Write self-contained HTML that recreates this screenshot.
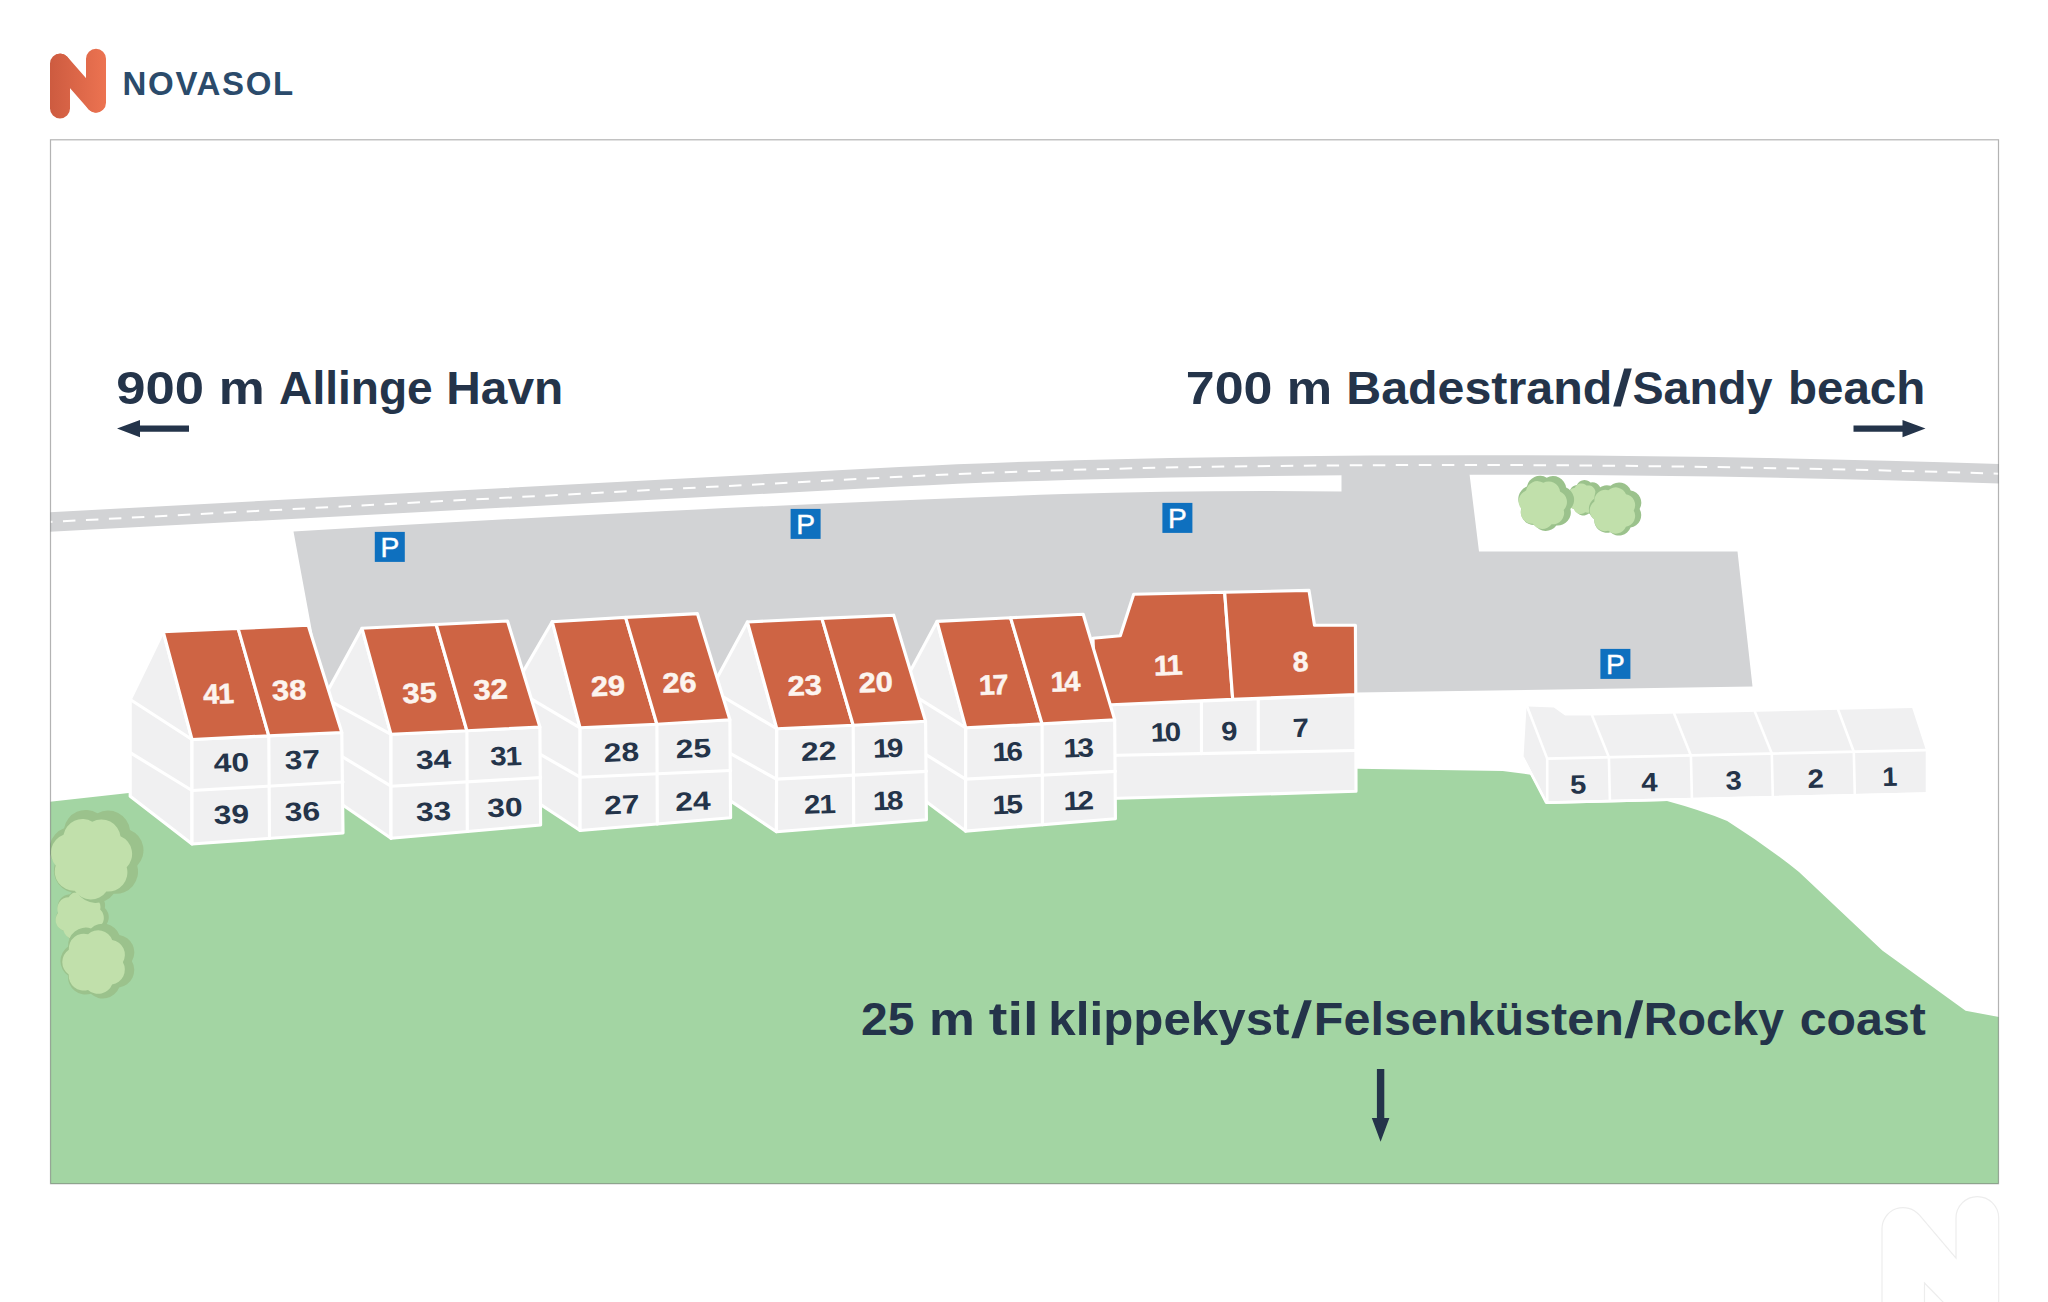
<!DOCTYPE html>
<html lang="en"><head><meta charset="utf-8"><title>NOVASOL site plan</title>
<style>
html,body{margin:0;padding:0;background:#fff}
body{width:2048px;height:1302px;overflow:hidden;font-family:"Liberation Sans",sans-serif}
svg{display:block}
text{font-family:"Liberation Sans",sans-serif}
.logo{font-size:33px;font-weight:700;fill:#2b4b6b}
.big{font-size:47px;font-weight:700;fill:#24344a}
.rn{font-size:28px;font-weight:700;fill:#fcf4ef;stroke:#fcf4ef;stroke-width:.5px;text-anchor:middle;dominant-baseline:central}
.wn{font-size:26.5px;font-weight:700;fill:#24344a;text-anchor:middle;dominant-baseline:central}
.pp{font-size:28.2px;font-weight:400;fill:#fff;stroke:#fff;stroke-width:.45px;text-anchor:middle}
</style></head>
<body>
<svg width="2048" height="1302" viewBox="0 0 2048 1302">
<defs>
<linearGradient id="lg" gradientUnits="userSpaceOnUse" x1="50" y1="0" x2="106" y2="0"><stop offset="0" stop-color="#cd5b40"/><stop offset="1" stop-color="#ec7351"/></linearGradient>
<clipPath id="fr"><rect x="50.5" y="139.8" width="1948" height="1043.9"/></clipPath>
</defs>
<rect width="2048" height="1302" fill="#fff"/>
<g fill="none" stroke="url(#lg)" stroke-linecap="round"><path d="M60,108.5 L60,63.5 M96,102.8 L96,58.8" stroke-width="20"/><path d="M60.5,63.1 L95.5,103.2" stroke-width="18.6"/></g>
<text x="122.6" y="95.4" class="logo" textLength="170.6" lengthAdjust="spacing">NOVASOL</text>
<g clip-path="url(#fr)">
<path d="M40,522.5 L900,476.8 C1100,466.5 1300,465 1474,465 C1650,465 1850,469 2010,474" fill="none" stroke="#d2d3d5" stroke-width="19.5"/>
<path d="M293.5,531.5 Q700,507 1064,494 Q1200,490 1341.5,491.5 L1341.5,470 L1469,470 L1479,551.5 L1737.5,551.5 L1752.5,686.5 L1356,692.5 L325,702 Z" fill="#d2d3d5"/>
<path d="M40,522.5 L900,476.8 C1100,466.5 1300,465 1474,465 C1650,465 1850,469 2010,474" fill="none" stroke="#fff" stroke-width="2" stroke-dasharray="12.5 10.5"/>
<path d="M40,803 L128.8,793 L1357,768.7 L1502.7,771 L1530.5,774.7 L1546.7,803.9 L1667,801.1 Q1700,810 1727.2,821 Q1765,845 1799,871.9 L1882.3,950.6 L1965.6,1010.8 L2010,1019 L2010,1200 L40,1200 Z" fill="#a3d5a3"/>
<path d="M101.7,928.5 A12.6,12.6 0 0 1 83.7,938.8 A12.6,12.6 0 0 1 64.5,931.2 A12.6,12.6 0 0 1 58.4,911.4 A12.6,12.6 0 0 1 70.1,894.3 A12.6,12.6 0 0 1 90.8,892.8 A12.6,12.6 0 0 1 104.8,908.0 A12.6,12.6 0 0 1 101.7,928.5Z" fill="#9bc28c"/>
<path d="M97.4,928.2 A11.4,11.4 0 0 1 81.1,937.6 A11.4,11.4 0 0 1 63.6,930.7 A11.4,11.4 0 0 1 58.1,912.7 A11.4,11.4 0 0 1 68.7,897.2 A11.4,11.4 0 0 1 87.5,895.8 A11.4,11.4 0 0 1 100.2,909.6 A11.4,11.4 0 0 1 97.4,928.2Z" fill="#c1e0ab"/>
<path d="M137.2,865.7 A22.1,22.1 0 0 1 113.7,893.7 A22.1,22.1 0 0 1 77.2,892.8 A22.1,22.1 0 0 1 55.1,863.6 A22.1,22.1 0 0 1 64.1,828.2 A22.1,22.1 0 0 1 97.5,813.2 A22.1,22.1 0 0 1 130.0,829.9 A22.1,22.1 0 0 1 137.2,865.7Z" fill="#9bc28c"/>
<path d="M126.7,867.3 A19.2,19.2 0 0 1 106.4,891.5 A19.2,19.2 0 0 1 74.7,890.7 A19.2,19.2 0 0 1 55.7,865.5 A19.2,19.2 0 0 1 63.5,834.8 A19.2,19.2 0 0 1 92.3,821.8 A19.2,19.2 0 0 1 120.5,836.3 A19.2,19.2 0 0 1 126.7,867.3Z" fill="#c1e0ab"/>
<path d="M119.2,987.4 A17.6,17.6 0 0 1 90.9,993.8 A17.6,17.6 0 0 1 68.1,975.6 A17.6,17.6 0 0 1 68.2,946.5 A17.6,17.6 0 0 1 91.0,928.4 A17.6,17.6 0 0 1 119.4,934.9 A17.6,17.6 0 0 1 131.9,961.2 A17.6,17.6 0 0 1 119.2,987.4Z" fill="#9bc28c"/>
<path d="M112.1,984.4 A15.0,15.0 0 0 1 88.0,989.9 A15.0,15.0 0 0 1 68.7,974.4 A15.0,15.0 0 0 1 68.8,949.7 A15.0,15.0 0 0 1 88.1,934.3 A15.0,15.0 0 0 1 112.2,939.9 A15.0,15.0 0 0 1 122.9,962.2 A15.0,15.0 0 0 1 112.1,984.4Z" fill="#c1e0ab"/>
<path d="M1600.2,505.5 A8.4,8.4 0 0 1 1588.9,513.6 A8.4,8.4 0 0 1 1575.6,509.8 A8.4,8.4 0 0 1 1570.3,497.1 A8.4,8.4 0 0 1 1576.9,485.0 A8.4,8.4 0 0 1 1590.5,482.6 A8.4,8.4 0 0 1 1600.9,491.7 A8.4,8.4 0 0 1 1600.2,505.5Z" fill="#9bc28c"/>
<path d="M1594.8,505.4 A7.2,7.2 0 0 1 1585.2,512.3 A7.2,7.2 0 0 1 1573.7,509.1 A7.2,7.2 0 0 1 1569.1,498.1 A7.2,7.2 0 0 1 1574.8,487.7 A7.2,7.2 0 0 1 1586.5,485.6 A7.2,7.2 0 0 1 1595.4,493.5 A7.2,7.2 0 0 1 1594.8,505.4Z" fill="#c1e0ab"/>
<path d="M1570.4,508.9 A13.2,13.2 0 0 1 1556.4,525.5 A13.2,13.2 0 0 1 1534.7,525.0 A13.2,13.2 0 0 1 1521.5,507.6 A13.2,13.2 0 0 1 1526.9,486.6 A13.2,13.2 0 0 1 1546.7,477.7 A13.2,13.2 0 0 1 1566.1,487.6 A13.2,13.2 0 0 1 1570.4,508.9Z" fill="#9bc28c"/>
<path d="M1563.7,509.9 A11.4,11.4 0 0 1 1551.6,524.3 A11.4,11.4 0 0 1 1532.8,523.8 A11.4,11.4 0 0 1 1521.4,508.8 A11.4,11.4 0 0 1 1526.1,490.6 A11.4,11.4 0 0 1 1543.3,482.8 A11.4,11.4 0 0 1 1560.0,491.4 A11.4,11.4 0 0 1 1563.7,509.9Z" fill="#c1e0ab"/>
<path d="M1630.6,527.6 A12.5,12.5 0 0 1 1610.4,532.2 A12.5,12.5 0 0 1 1594.3,519.3 A12.5,12.5 0 0 1 1594.4,498.6 A12.5,12.5 0 0 1 1610.6,485.8 A12.5,12.5 0 0 1 1630.7,490.4 A12.5,12.5 0 0 1 1639.6,509.1 A12.5,12.5 0 0 1 1630.6,527.6Z" fill="#9bc28c"/>
<path d="M1625.9,526.7 A10.9,10.9 0 0 1 1608.3,530.7 A10.9,10.9 0 0 1 1594.3,519.4 A10.9,10.9 0 0 1 1594.4,501.5 A10.9,10.9 0 0 1 1608.4,490.3 A10.9,10.9 0 0 1 1626.0,494.3 A10.9,10.9 0 0 1 1633.7,510.5 A10.9,10.9 0 0 1 1625.9,526.7Z" fill="#c1e0ab"/>
<rect x="374.8" y="531.9" width="30" height="30" fill="#0e70bf"/>
<text x="389.8" y="556.8" class="pp">P</text>
<rect x="790.6" y="508.9" width="30" height="30" fill="#0e70bf"/>
<text x="805.6" y="533.8" class="pp">P</text>
<rect x="1162.4" y="502.9" width="30" height="30" fill="#0e70bf"/>
<text x="1177.4" y="527.8" class="pp">P</text>
<rect x="1600.4" y="648.9" width="30" height="30" fill="#0e70bf"/>
<text x="1615.4" y="673.8" class="pp">P</text>
<polygon points="1526.5,707.5 1547.2,758.6 1547.2,801.3 1523.6,756.4" fill="#f0f0f1" stroke="none" stroke-width="0" stroke-linejoin="round" />
<polygon points="1547.2,758.6 1925.7,750.1 1925.7,792.3 1547.2,801.3" fill="#f0f0f1" stroke="none" stroke-width="0" stroke-linejoin="round" />
<polygon points="1528.1,706.5 1553.9,707.4 1565.1,715.5 1592.1,715.5 1912.2,708.1 1925.7,749.5 1547.2,758.6" fill="#f0f0f1" stroke="none" stroke-width="0" stroke-linejoin="round" />
<line x1="1527.3" y1="707.0" x2="1547.2" y2="758.6" stroke="#fff" stroke-width="2.6" stroke-linecap="round"/>
<line x1="1547.2" y1="758.6" x2="1925.7" y2="750.1" stroke="#fff" stroke-width="2.6" stroke-linecap="round"/>
<line x1="1547.2" y1="758.6" x2="1547.2" y2="801.3" stroke="#fff" stroke-width="2.6" stroke-linecap="round"/>
<line x1="1592.1" y1="715.5" x2="1608.9" y2="757.2" stroke="#fff" stroke-width="2.6" stroke-linecap="round"/>
<line x1="1608.9" y1="757.2" x2="1609.9" y2="799.8" stroke="#fff" stroke-width="2.6" stroke-linecap="round"/>
<line x1="1674.1" y1="713.6" x2="1690.9" y2="755.4" stroke="#fff" stroke-width="2.6" stroke-linecap="round"/>
<line x1="1690.9" y1="755.4" x2="1691.9" y2="798.0" stroke="#fff" stroke-width="2.6" stroke-linecap="round"/>
<line x1="1754.9" y1="711.7" x2="1771.8" y2="753.6" stroke="#fff" stroke-width="2.6" stroke-linecap="round"/>
<line x1="1771.8" y1="753.6" x2="1772.8" y2="796.2" stroke="#fff" stroke-width="2.6" stroke-linecap="round"/>
<line x1="1838.1" y1="709.8" x2="1853.8" y2="751.7" stroke="#fff" stroke-width="2.6" stroke-linecap="round"/>
<line x1="1853.8" y1="751.7" x2="1854.8" y2="794.3" stroke="#fff" stroke-width="2.6" stroke-linecap="round"/>
<polyline points="1522.6,757.2 1546.2,802.6 1926.7,793.6" fill="none" stroke="#fff" stroke-width="2.6" stroke-linejoin="round"/>
<text class="wn" transform="translate(1578.2 784.4) rotate(-1.5) scale(1.104 1)">5</text>
<text class="wn" transform="translate(1649.4 782.2) rotate(-1.5) scale(1.104 1)">4</text>
<text class="wn" transform="translate(1733.6 780.6) rotate(-1.5) scale(1.104 1)">3</text>
<text class="wn" transform="translate(1815.6 778.8) rotate(-1.5) scale(1.104 1)">2</text>
<text class="wn" transform="translate(1890.8 777.0) rotate(-1.5) scale(1.027 1)"><tspan dx="-0.9">1</tspan></text>
<polygon points="1093.0,705.5 1355.8,694.6 1356.0,791.3 1093.0,799.0" fill="#f0f0f1" stroke="#fff" stroke-width="3.15" stroke-linejoin="round" />
<line x1="1093.0" y1="755.8" x2="1356.0" y2="750.5" stroke="#fff" stroke-width="3.15" stroke-linecap="round"/>
<line x1="1201.4" y1="701.0" x2="1201.5" y2="753.6" stroke="#fff" stroke-width="3.15" stroke-linecap="round"/>
<line x1="1258.2" y1="698.6" x2="1258.3" y2="752.5" stroke="#fff" stroke-width="3.15" stroke-linecap="round"/>
<polygon points="1093.0,638.3 1120.3,635.8 1133.7,594.3 1224.7,592.3 1232.7,699.3 1095.0,705.5" fill="#ce6444" stroke="#fff" stroke-width="3.15" stroke-linejoin="round" />
<polygon points="1224.7,592.3 1309.0,590.4 1314.5,625.2 1355.4,625.2 1355.8,694.6 1232.7,699.3" fill="#ce6444" stroke="#fff" stroke-width="3.15" stroke-linejoin="round" />
<text class="rn" transform="translate(1169.1 665.1) rotate(-2) scale(1.023 1)"><tspan dx="-0.9">1</tspan><tspan dx="-3.1">1</tspan></text>
<text class="rn" transform="translate(1300.5 661.8) rotate(-2) scale(1.012 1)">8</text>
<text class="wn" transform="translate(1166.8 731.7) rotate(-2) scale(1.116 1)"><tspan dx="-0.9">1</tspan><tspan dx="-2.2">0</tspan></text>
<text class="wn" transform="translate(1229.4 731.3) rotate(-2) scale(1.104 1)">9</text>
<text class="wn" transform="translate(1300.9 727.9) rotate(-2) scale(1.104 1)">7</text>
<polygon points="901.4,687.7 937.0,621.4 965.8,727.8 965.5,831.1 901.4,783.1" fill="#f0f0f1" stroke="#fff" stroke-width="3.15" stroke-linejoin="round" />
<line x1="901.4" y1="687.7" x2="965.8" y2="727.8" stroke="#fff" stroke-width="3.15" stroke-linecap="round"/>
<line x1="901.4" y1="739.4" x2="965.5" y2="779.1" stroke="#fff" stroke-width="3.15" stroke-linecap="round"/>
<polygon points="965.8,727.8 1114.7,719.8 1115.4,818.7 965.5,831.1" fill="#f0f0f1" stroke="#fff" stroke-width="3.15" stroke-linejoin="round" />
<line x1="965.5" y1="779.1" x2="1115.4" y2="771.4" stroke="#fff" stroke-width="3.15" stroke-linecap="round"/>
<line x1="1042.1" y1="723.9" x2="1042.5" y2="824.7" stroke="#fff" stroke-width="3.15" stroke-linecap="round"/>
<polygon points="937.0,621.4 1010.6,617.8 1042.1,723.9 965.8,727.8" fill="#ce6444" stroke="#fff" stroke-width="3.15" stroke-linejoin="round" />
<polygon points="1010.6,617.8 1083.2,614.3 1114.7,719.8 1042.1,723.9" fill="#ce6444" stroke="#fff" stroke-width="3.15" stroke-linejoin="round" />
<text class="rn" transform="translate(994.6 684.5) rotate(-2.2) scale(1.023 1)"><tspan dx="-0.9">1</tspan><tspan dx="-2.2">7</tspan></text>
<text class="rn" transform="translate(1066.3 681.2) rotate(-2.2) scale(1.023 1)"><tspan dx="-0.9">1</tspan><tspan dx="-2.2">4</tspan></text>
<text class="wn" transform="translate(1008.7 751.3) rotate(-2.2) scale(1.116 1)"><tspan dx="-0.9">1</tspan><tspan dx="-2.2">6</tspan></text>
<text class="wn" transform="translate(1079.7 747.4) rotate(-2.2) scale(1.116 1)"><tspan dx="-0.9">1</tspan><tspan dx="-2.2">3</tspan></text>
<text class="wn" transform="translate(1008.7 804.1) rotate(-2.2) scale(1.116 1)"><tspan dx="-0.9">1</tspan><tspan dx="-2.2">5</tspan></text>
<text class="wn" transform="translate(1079.7 800.3) rotate(-2.2) scale(1.116 1)"><tspan dx="-0.9">1</tspan><tspan dx="-2.2">2</tspan></text>
<polygon points="710.8,689.5 747.4,622.0 776.8,728.7 776.4,831.7 710.8,787.6" fill="#f0f0f1" stroke="#fff" stroke-width="3.15" stroke-linejoin="round" />
<line x1="710.8" y1="689.5" x2="776.8" y2="728.7" stroke="#fff" stroke-width="3.15" stroke-linecap="round"/>
<line x1="710.8" y1="742.6" x2="776.4" y2="779.1" stroke="#fff" stroke-width="3.15" stroke-linecap="round"/>
<polygon points="776.8,728.7 925.6,721.2 926.4,819.7 776.4,831.7" fill="#f0f0f1" stroke="#fff" stroke-width="3.15" stroke-linejoin="round" />
<line x1="776.4" y1="779.1" x2="926.4" y2="771.4" stroke="#fff" stroke-width="3.15" stroke-linecap="round"/>
<line x1="853.2" y1="725.2" x2="853.7" y2="825.5" stroke="#fff" stroke-width="3.15" stroke-linecap="round"/>
<polygon points="747.4,622.0 821.9,618.4 853.2,725.2 776.8,728.7" fill="#ce6444" stroke="#fff" stroke-width="3.15" stroke-linejoin="round" />
<polygon points="821.9,618.4 893.7,615.2 925.6,721.2 853.2,725.2" fill="#ce6444" stroke="#fff" stroke-width="3.15" stroke-linejoin="round" />
<text class="rn" transform="translate(804.6 685.0) rotate(-2.2) scale(1.100 1)">23</text>
<text class="rn" transform="translate(875.7 681.8) rotate(-2.2) scale(1.100 1)">20</text>
<text class="wn" transform="translate(818.7 751.3) rotate(-2.2) scale(1.200 1)">22</text>
<text class="wn" transform="translate(889.1 747.8) rotate(-2.2) scale(1.116 1)"><tspan dx="-0.9">1</tspan><tspan dx="-2.2">9</tspan></text>
<text class="wn" transform="translate(819.9 804.1) rotate(-2.2) scale(1.116 1)">2<tspan dx="-0.9">1</tspan></text>
<text class="wn" transform="translate(889.1 800.3) rotate(-2.2) scale(1.116 1)"><tspan dx="-0.9">1</tspan><tspan dx="-2.2">8</tspan></text>
<polygon points="513.4,688.4 552.2,621.7 580.1,727.8 580.1,830.5 513.4,786.6" fill="#f0f0f1" stroke="#fff" stroke-width="3.15" stroke-linejoin="round" />
<line x1="513.4" y1="688.4" x2="580.1" y2="727.8" stroke="#fff" stroke-width="3.15" stroke-linecap="round"/>
<line x1="513.4" y1="738.8" x2="580.1" y2="777.2" stroke="#fff" stroke-width="3.15" stroke-linecap="round"/>
<polygon points="580.1,727.8 729.9,719.8 730.6,817.8 580.1,830.5" fill="#f0f0f1" stroke="#fff" stroke-width="3.15" stroke-linejoin="round" />
<line x1="580.1" y1="777.2" x2="730.6" y2="770.5" stroke="#fff" stroke-width="3.15" stroke-linecap="round"/>
<line x1="656.9" y1="724.3" x2="657.3" y2="824.0" stroke="#fff" stroke-width="3.15" stroke-linecap="round"/>
<polygon points="552.2,621.7 625.6,617.4 656.9,724.3 580.1,727.8" fill="#ce6444" stroke="#fff" stroke-width="3.15" stroke-linejoin="round" />
<polygon points="625.6,617.4 697.4,613.6 729.9,719.8 656.9,724.3" fill="#ce6444" stroke="#fff" stroke-width="3.15" stroke-linejoin="round" />
<text class="rn" transform="translate(607.9 685.6) rotate(-2.2) scale(1.100 1)">29</text>
<text class="rn" transform="translate(679.4 682.2) rotate(-2.2) scale(1.100 1)">26</text>
<text class="wn" transform="translate(621.4 752.2) rotate(-2.2) scale(1.200 1)">28</text>
<text class="wn" transform="translate(693.4 748.4) rotate(-2.2) scale(1.200 1)">25</text>
<text class="wn" transform="translate(621.9 804.7) rotate(-2.2) scale(1.200 1)">27</text>
<text class="wn" transform="translate(692.8 801.2) rotate(-2.2) scale(1.200 1)">24</text>
<polygon points="324.0,697.7 362.0,628.3 391.0,734.3 391.0,838.3 324.0,792.0" fill="#f0f0f1" stroke="#fff" stroke-width="3.15" stroke-linejoin="round" />
<line x1="324.0" y1="697.7" x2="391.0" y2="734.3" stroke="#fff" stroke-width="3.15" stroke-linecap="round"/>
<line x1="324.0" y1="745.6" x2="391.0" y2="786.2" stroke="#fff" stroke-width="3.15" stroke-linecap="round"/>
<polygon points="391.0,734.3 539.9,727.0 540.6,825.0 391.0,838.3" fill="#f0f0f1" stroke="#fff" stroke-width="3.15" stroke-linejoin="round" />
<line x1="391.0" y1="786.2" x2="540.6" y2="777.6" stroke="#fff" stroke-width="3.15" stroke-linecap="round"/>
<line x1="466.9" y1="730.8" x2="467.3" y2="831.5" stroke="#fff" stroke-width="3.15" stroke-linecap="round"/>
<polygon points="362.0,628.3 436.2,624.5 466.9,730.8 391.0,734.3" fill="#ce6444" stroke="#fff" stroke-width="3.15" stroke-linejoin="round" />
<polygon points="436.2,624.5 507.5,621.0 539.9,727.0 466.9,730.8" fill="#ce6444" stroke="#fff" stroke-width="3.15" stroke-linejoin="round" />
<text class="rn" transform="translate(419.5 692.5) rotate(-2.2) scale(1.100 1)">35</text>
<text class="rn" transform="translate(490.5 689.0) rotate(-2.2) scale(1.100 1)">32</text>
<text class="wn" transform="translate(433.5 759.5) rotate(-2.2) scale(1.200 1)">34</text>
<text class="wn" transform="translate(506.0 756.0) rotate(-2.2) scale(1.116 1)">3<tspan dx="-0.9">1</tspan></text>
<text class="wn" transform="translate(433.5 811.5) rotate(-2.2) scale(1.200 1)">33</text>
<text class="wn" transform="translate(504.8 807.5) rotate(-2.2) scale(1.200 1)">30</text>
<polygon points="130.2,699.5 163.2,631.6 192.0,739.5 192.0,844.0 130.2,796.2" fill="#f0f0f1" stroke="#fff" stroke-width="3.15" stroke-linejoin="round" />
<line x1="130.2" y1="699.5" x2="192.0" y2="739.5" stroke="#fff" stroke-width="3.15" stroke-linecap="round"/>
<line x1="130.2" y1="752.6" x2="192.0" y2="790.5" stroke="#fff" stroke-width="3.15" stroke-linecap="round"/>
<polygon points="192.0,739.5 341.8,732.5 343.0,833.0 192.0,844.0" fill="#f0f0f1" stroke="#fff" stroke-width="3.15" stroke-linejoin="round" />
<line x1="192.0" y1="790.5" x2="343.0" y2="782.0" stroke="#fff" stroke-width="3.15" stroke-linecap="round"/>
<line x1="268.8" y1="735.8" x2="269.5" y2="838.4" stroke="#fff" stroke-width="3.15" stroke-linecap="round"/>
<polygon points="163.2,631.6 238.1,628.4 268.8,735.8 192.0,739.5" fill="#ce6444" stroke="#fff" stroke-width="3.15" stroke-linejoin="round" />
<polygon points="238.1,628.4 308.2,625.3 341.8,732.5 268.8,735.8" fill="#ce6444" stroke="#fff" stroke-width="3.15" stroke-linejoin="round" />
<text class="rn" transform="translate(218.6 693.5) rotate(-2.2) scale(1.023 1)">4<tspan dx="-0.9">1</tspan></text>
<text class="rn" transform="translate(289.0 689.7) rotate(-2.2) scale(1.100 1)">38</text>
<text class="wn" transform="translate(231.4 762.6) rotate(-2.2) scale(1.200 1)">40</text>
<text class="wn" transform="translate(302.4 759.8) rotate(-2.2) scale(1.200 1)">37</text>
<text class="wn" transform="translate(231.4 814.5) rotate(-2.2) scale(1.200 1)">39</text>
<text class="wn" transform="translate(302.4 811.6) rotate(-2.2) scale(1.200 1)">36</text>
<text class="big" transform="translate(116.18 403.6) scale(1.1196 1)">900</text>
<text class="big" transform="translate(218.80 403.6) scale(1.1000 1)">m</text>
<text class="big" transform="translate(279.12 403.6) scale(0.9804 1)">Allinge</text>
<text class="big" transform="translate(446.25 403.6) scale(1.0181 1)">Havn</text>
<text class="big" transform="translate(1185.79 403.6) scale(1.1052 1)">700</text>
<text class="big" transform="translate(1286.84 403.6) scale(1.0861 1)">m</text>
<text class="big" transform="translate(1346.21 403.6) scale(1.0290 1)">Badestrand</text>
<polygon points="1613.2,406.6 1620.8,406.6 1631.8,368.6 1624.2,368.6" fill="#24344a"/>
<text class="big" transform="translate(1632.41 403.6) scale(0.9935 1)">Sandy</text>
<text class="big" transform="translate(1787.97 403.6) scale(1.0113 1)">beach</text>
<text class="big" transform="translate(860.98 1035.2) scale(1.0212 1)">25</text>
<text class="big" transform="translate(929.01 1035.2) scale(1.0972 1)">m</text>
<text class="big" transform="translate(988.80 1035.2) scale(1.1883 1)">til</text>
<text class="big" transform="translate(1048.35 1035.2) scale(1.0496 1)">klippekyst</text>
<polygon points="1291.3,1038.2 1298.9,1038.2 1311.8,1000.2 1304.2,1000.2" fill="#24344a"/>
<text class="big" transform="translate(1313.80 1035.2) scale(1.0323 1)">Felsenküsten</text>
<polygon points="1624.5,1038.2 1632.1,1038.2 1643.3,1000.2 1635.7,1000.2" fill="#24344a"/>
<text class="big" transform="translate(1643.72 1035.2) scale(0.9940 1)">Rocky</text>
<text class="big" transform="translate(1799.77 1035.2) scale(1.0268 1)">coast</text>
<path d="M117,428.6 L140,420 L140,425.4 L189,425.4 L189,431.8 L140,431.8 L140,437.2 Z" fill="#24344a"/>
<path d="M1925.5,428.6 L1902.5,420 L1902.5,425.4 L1853.5,425.4 L1853.5,431.8 L1902.5,431.8 L1902.5,437.2 Z" fill="#24344a"/>
<path d="M1380.6,1141.8 L1371.8,1118 L1376.9,1118 L1376.9,1069 L1384.3,1069 L1384.3,1118 L1389.4,1118 Z" fill="#24344a"/>
</g>
<rect x="50.5" y="139.8" width="1948" height="1043.9" fill="none" stroke="rgba(50,50,50,0.37)" stroke-width="1.2"/>
<path d="M1882,1310 L1882,1228.7 A21.2,21.2 0 0 1 1919.5,1215.2 L1956,1258.2 L1956,1218 A21.3,21.3 0 0 1 1998.7,1218 L1998.7,1310 M1924.5,1310 L1924.5,1283 L1944,1303" fill="none" stroke="#ededed" stroke-width="1.2"/>
</svg>
</body></html>
